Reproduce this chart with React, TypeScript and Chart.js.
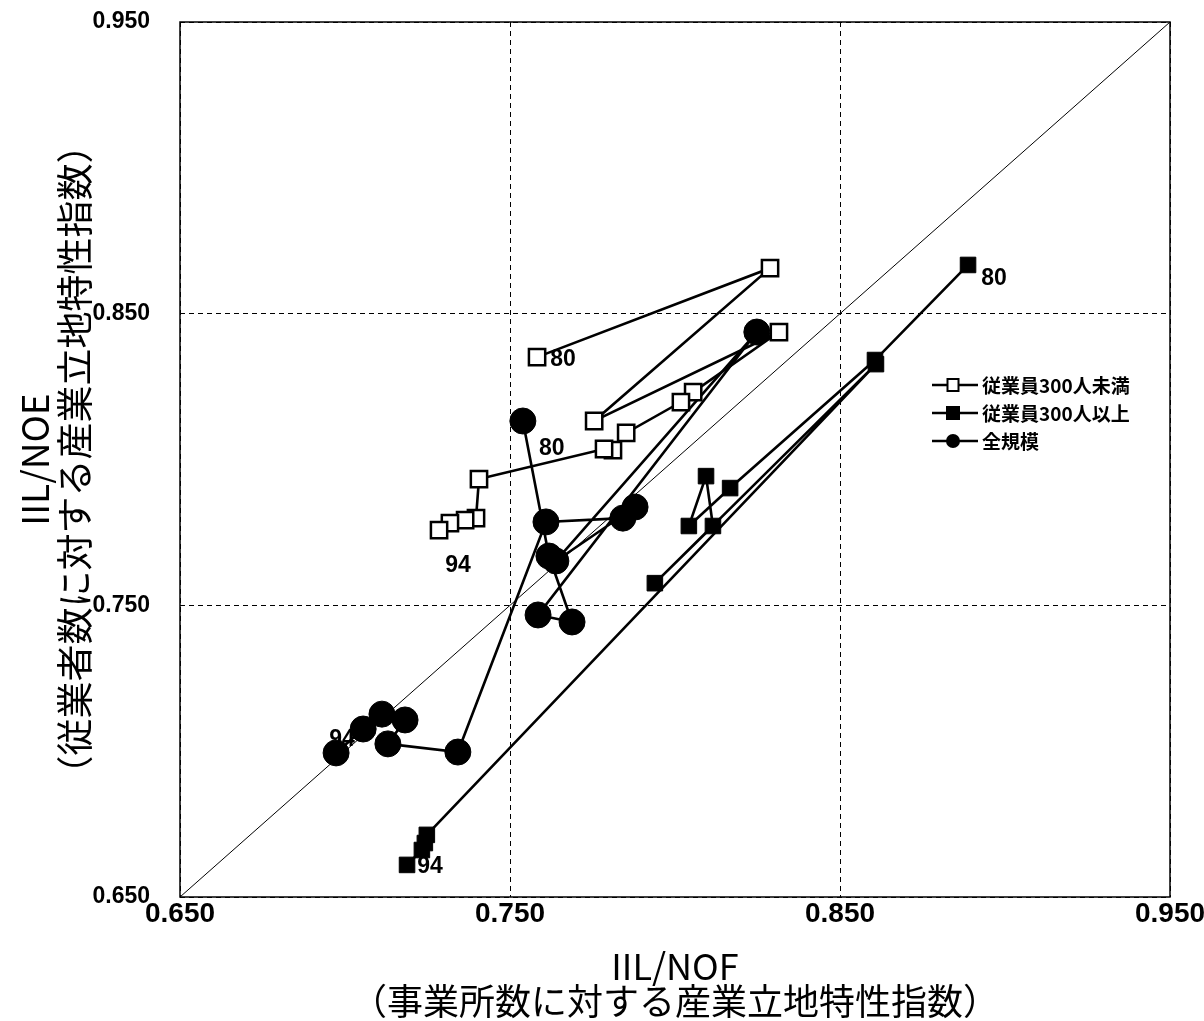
import React, { useEffect, useRef } from 'react';
import { Chart, registerables } from 'chart.js';

Chart.register(...registerables);

// ---- data ----
const xTicks = [0.65, 0.75, 0.85, 0.95];
const yTicks = [0.65, 0.75, 0.85, 0.95];

const seriesNames = ['従業員300人未満', '従業員300人以上', '全規模'];

// 従業員300人未満 (1980 -> 1994)
const smallX = [0.7582, 0.8288, 0.7755, 0.8315, 0.8055, 0.8018, 0.7852, 0.7812, 0.7785, 0.7406, 0.7397, 0.7364, 0.7318, 0.7285];
const smallY = [0.8351, 0.8656, 0.8132, 0.8437, 0.8231, 0.8197, 0.8091, 0.8032, 0.8036, 0.7933, 0.7799, 0.7792, 0.7782, 0.7758];

// 従業員300人以上
const largeX = [0.8888, 0.8606, 0.8167, 0.8042, 0.8094, 0.8115, 0.7939, 0.8609, 0.7248, 0.7242, 0.7233, 0.7188];
const largeY = [0.8667, 0.8341, 0.7902, 0.7772, 0.7943, 0.7772, 0.7576, 0.8327, 0.6713, 0.6685, 0.6661, 0.6610];

// 全規模
const allX = [0.7539, 0.7618, 0.7688, 0.7585, 0.8248, 0.7639, 0.7879, 0.7842, 0.7609, 0.7342, 0.7130, 0.7182, 0.7112, 0.7055, 0.6973];
const allY = [0.8132, 0.7669, 0.7443, 0.7467, 0.8437, 0.7652, 0.7837, 0.7799, 0.7786, 0.6997, 0.7025, 0.7107, 0.7127, 0.7076, 0.6994];

// 45-degree reference line
const diagonalX = [0.65, 0.95];
const diagonalY = [0.65, 0.95];

// year annotations: series index, point index, text
const yearLabels = [
  { series: 0, index: 0, text: '80' },
  { series: 0, index: 13, text: '94' },
  { series: 1, index: 0, text: '80' },
  { series: 1, index: 11, text: '94' },
  { series: 2, index: 0, text: '80' },
  { series: 2, index: 14, text: '94' },
];

// ---- styles ----
const labelOffsets = [
  [26, 3],
  [19, 36],
  [26, 14],
  [23, 2],
  [29, 28],
  [6, -13],
];
const LATIN = "'Liberation Sans', Arial, sans-serif";
const NARROW = "'Liberation Sans Narrow', 'Liberation Sans', Arial, sans-serif";
const CJK = "'Liberation Sans Narrow', 'Noto Sans CJK JP', sans-serif";

const pts = (xs: number[], ys: number[]) => xs.map((x, i) => ({ x, y: ys[i] }));

const zeroPad = (s: any) => {
  s.paddingLeft = 0;
  s.paddingRight = 0;
  s.paddingTop = 0;
  s.paddingBottom = 0;
};

export default function App() {
  const ref = useRef<HTMLCanvasElement | null>(null);

  useEffect(() => {
    const canvas = ref.current;
    if (!canvas) return;
    const seriesData = [pts(smallX, smallY), pts(largeX, largeY), pts(allX, allY)];

    const framePlugin = {
      id: 'frame',
      beforeDatasetsDraw(chart: any) {
        const { ctx, chartArea: a, scales } = chart;
        ctx.save();
        ctx.strokeStyle = '#000';
        ctx.lineWidth = 1.5;
        ctx.strokeRect(a.left, a.top, a.right - a.left, a.bottom - a.top);
        ctx.font = `bold 23px ${LATIN}`;
        ctx.fillStyle = '#000';
        ctx.textAlign = 'center';
        ctx.textBaseline = 'middle';
        yearLabels.forEach((l, i) => {
          const p = seriesData[l.series][l.index];
          const px = scales.x.getPixelForValue(p.x) + labelOffsets[i][0];
          const py = scales.y.getPixelForValue(p.y) + labelOffsets[i][1];
          ctx.fillText(l.text, px, py);
        });
        ctx.restore();
      },
      afterDraw(chart: any) {
        const { ctx, chartArea: a } = chart;
        ctx.save();
        const x0 = a.right - 238;
        const y0 = a.top + 363;
        seriesNames.forEach((name, i) => {
          const y = y0 + i * 28;
          ctx.strokeStyle = '#000';
          ctx.lineWidth = 2.5;
          ctx.beginPath();
          ctx.moveTo(x0, y);
          ctx.lineTo(x0 + 46, y);
          ctx.stroke();
          const mx = x0 + 21;
          if (i === 0) {
            ctx.fillStyle = '#fff';
            ctx.fillRect(mx - 5.5, y - 6, 11, 12);
            ctx.lineWidth = 2;
            ctx.strokeRect(mx - 5.5, y - 6, 11, 12);
          } else if (i === 1) {
            ctx.fillStyle = '#000';
            ctx.fillRect(mx - 7, y - 7, 14, 14);
          } else {
            ctx.fillStyle = '#000';
            ctx.beginPath();
            ctx.arc(mx, y, 7, 0, Math.PI * 2);
            ctx.fill();
          }
          ctx.fillStyle = '#000';
          ctx.font = `bold 19px 'Noto Sans CJK JP', sans-serif`;
          ctx.textAlign = 'left';
          ctx.textBaseline = 'middle';
          ctx.fillText(name, x0 + 50, y + 1);
        });
        ctx.restore();
      },
    };

    const chart = new Chart(canvas, {
      type: 'scatter',
      data: {
        datasets: [
          {
            label: seriesNames[0],
            data: seriesData[0],
            showLine: true,
            borderColor: '#000',
            borderWidth: 2.6,
            pointStyle: 'rect',
            pointRadius: 11.5,
            pointBorderWidth: 2.5,
            pointBackgroundColor: '#fff',
            pointBorderColor: '#000',
            order: 1,
          },
          {
            label: seriesNames[1],
            data: seriesData[1],
            showLine: true,
            borderColor: '#000',
            borderWidth: 2.6,
            pointStyle: 'rect',
            pointRadius: 11,
            pointBorderWidth: 1,
            pointBackgroundColor: '#000',
            pointBorderColor: '#000',
            order: 2,
          },
          {
            label: seriesNames[2],
            data: seriesData[2],
            showLine: true,
            borderColor: '#000',
            borderWidth: 2.6,
            pointStyle: 'circle',
            pointRadius: 13,
            pointBorderWidth: 1,
            pointBackgroundColor: '#000',
            pointBorderColor: '#000',
            order: 3,
          },
          {
            label: 'diagonal',
            data: pts(diagonalX, diagonalY),
            showLine: true,
            borderColor: '#000',
            borderWidth: 1,
            pointRadius: 0,
            order: 10,
          },
        ],
      },
      options: {
        animation: false,
        responsive: false,
        events: [],
        layout: { padding: { top: 22, right: 34, left: 0, bottom: 0 } },
        plugins: {
          legend: { display: false },
          tooltip: { enabled: false },
        },
        scales: {
          x: {
            type: 'linear',
            min: 0.65,
            max: 0.95,
            afterBuildTicks: (s: any) => {
              s.ticks = xTicks.map((v) => ({ value: v }));
            },
            afterFit: (s: any) => {
              s.height = 124;
              zeroPad(s);
            },
            ticks: {
              callback: (v: any) => Number(v).toFixed(3),
              font: { family: NARROW, size: 28, weight: 'bold' },
              color: '#000',
              padding: 0,
              autoSkip: false,
              maxRotation: 0,
            },
            grid: { color: '#000', lineWidth: 1, drawTicks: false },
            border: { display: false, dash: [5, 4] },
            title: {
              display: true,
              text: ['IIL/NOF', '（事業所数に対する産業立地特性指数）'],
              font: { family: CJK, size: 36, lineHeight: 0.95 },
              color: '#000',
              padding: { top: 0, bottom: 3 },
            },
          },
          y: {
            type: 'linear',
            min: 0.65,
            max: 0.95,
            afterBuildTicks: (s: any) => {
              s.ticks = yTicks.map((v) => ({ value: v }));
            },
            afterFit: (s: any) => {
              s.width = 180;
              zeroPad(s);
            },
            ticks: {
              callback: (v: any) => Number(v).toFixed(3),
              font: { family: LATIN, size: 23, weight: 'bold' },
              color: '#000',
              padding: 30,
              autoSkip: false,
            },
            grid: { color: '#000', lineWidth: 1, drawTicks: false },
            border: { display: false, dash: [5, 4] },
            title: {
              display: true,
              text: ['IIL/NOE', '（従業者数に対する産業立地特性指数）'],
              font: { family: CJK, size: 37, lineHeight: 1.08 },
              color: '#000',
              padding: { top: 15, bottom: 0 },
            },
          },
        },
      },
      plugins: [framePlugin],
    } as any);

    return () => chart.destroy();
  }, []);

  return (
    <div style={{ position: 'fixed', left: 0, top: 0, width: 1204, height: 1021, background: '#fff' }}>
      <canvas ref={ref} width={1204} height={1021} style={{ display: 'block' }} />
    </div>
  );
}
